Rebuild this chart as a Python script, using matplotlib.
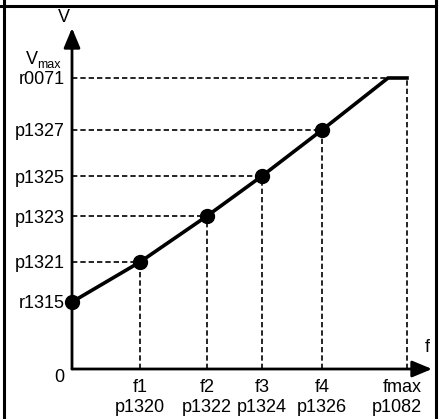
import matplotlib
matplotlib.use("Agg")
import matplotlib.pyplot as plt
from matplotlib.lines import Line2D

# V/f characteristic (arbitrary units)
freq = [0, 68, 135, 190, 250, 316, 335]
volt = [67, 107, 153, 193, 239, 291, 291]
point_freq = [0, 68, 135, 190, 250]
point_volt = [67, 107, 153, 193, 239]

volt_labels = ["r1315", "p1321", "p1323", "p1325", "p1327", "r0071"]
freq_top = ["f1", "f2", "f3", "f4", "fmax"]
freq_bottom = ["p1320", "p1322", "p1324", "p1326", "p1082"]
freq_ticks = [68, 135, 190, 250, 335]

W, H = 441, 419
x0, y0 = 72, 369  # axis origin in pixels

fig = plt.figure(figsize=(W / 100, H / 100), dpi=100)
ax = fig.add_axes([0, 0, 1, 1])
ax.set_xlim(-x0, W - x0)
ax.set_ylim(-(H - y0), y0)
ax.axis("off")
plt.rcParams["font.family"] = ["Liberation Sans", "DejaVu Sans"]
fs = 13

# frame
fig.add_artist(Line2D([4 / W, 4 / W], [0, 1], color="black", lw=2.2))
fig.add_artist(Line2D([436 / W, 436 / W], [0, 1], color="black", lw=2.2))
fig.add_artist(Line2D([0, 436 / W], [1 - 6 / H, 1 - 6 / H], color="black", lw=2.2))

dash = dict(color="black", lw=1.2, linestyle=(0, (3.2, 1.8)))

# dashed guides
for f, v in zip(point_freq[1:], point_volt[1:]):
    ax.plot([0, f], [v, v], **dash)
    ax.plot([f, f], [0, v], **dash)
ax.plot([0, freq[5]], [volt[5], volt[5]], **dash)
ax.plot([freq[6], freq[6]], [0, volt[6]], **dash)

# axes with arrows
ax.annotate("", xy=(0, 341), xytext=(0, 0),
            arrowprops=dict(arrowstyle="-|>,head_length=1.2,head_width=0.5",
                            color="black", lw=2, shrinkA=0, shrinkB=0))
ax.annotate("", xy=(360, 0), xytext=(0, 0),
            arrowprops=dict(arrowstyle="-|>,head_length=1.2,head_width=0.5",
                            color="black", lw=2, shrinkA=0, shrinkB=0))

# characteristic
ax.plot(freq, volt, color="black", lw=2.6, solid_joinstyle="miter")
ax.plot(point_freq, point_volt, "o", color="black", markersize=10)

# labels on V axis
for lab, v in zip(volt_labels, point_volt + [volt[5]]):
    ax.text(-7, v - 2, lab, ha="right", va="center", fontsize=fs)
ax.text(-40, 309, "V", ha="center", va="center", fontsize=fs)
ax.text(-35, 304, "max", ha="left", va="center", fontsize=9)
ax.text(-8, 351, "V", ha="center", va="center", fontsize=fs)
ax.text(-13, -8, "0", ha="center", va="center", fontsize=fs)
ax.text(355, 22, "f", ha="center", va="center", fontsize=fs)

# labels on f axis
for i, (t, b, f) in enumerate(zip(freq_top, freq_bottom, freq_ticks)):
    if i == len(freq_ticks) - 1:
        ax.text(350, -18, t, ha="right", va="center", fontsize=fs)
        ax.text(350, -38, b, ha="right", va="center", fontsize=fs)
    else:
        ax.text(f, -18, t, ha="center", va="center", fontsize=fs)
        ax.text(f, -38, b, ha="center", va="center", fontsize=fs)

fig.savefig("out.png", dpi=100)
